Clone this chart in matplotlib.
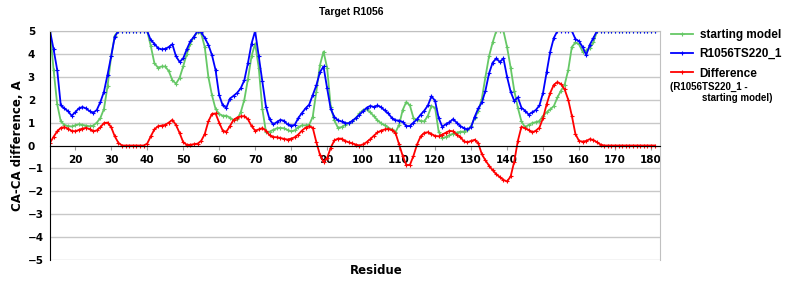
import numpy as np
import matplotlib.pyplot as plt

# residues 13..181
residue = np.arange(13, 182)

model = [5.0, 4.2, 3.3, 1.75, 1.62, 1.5, 1.3, 1.45, 1.62, 1.68,
         1.62, 1.5, 1.43, 1.55, 1.9, 2.35, 3.1, 3.9, 4.75, 5.0,
         5.0, 5.0, 5.0, 5.0, 5.0, 5.0, 5.0, 5.0, 4.6, 4.45,
         4.25, 4.2, 4.22, 4.3, 4.42, 3.9, 3.65, 3.8, 4.2, 4.55,
         4.75, 5.0, 4.95, 4.7, 4.4, 3.95, 3.3, 2.2, 1.75, 1.65,
         2.05, 2.17, 2.3, 2.5, 2.85, 3.6, 4.45, 5.0, 3.9, 2.8,
         1.7, 1.15, 0.92, 1.02, 1.12, 1.08, 0.92, 0.87, 0.9, 1.2,
         1.42, 1.62, 1.78, 2.2, 2.62, 3.2, 3.45, 2.5, 1.6, 1.25,
         1.1, 1.05, 0.98, 0.97, 1.08, 1.2, 1.35, 1.5, 1.65, 1.73,
         1.68, 1.75, 1.67, 1.53, 1.4, 1.2, 1.1, 1.09, 1.03, 0.85,
         0.85, 1.0, 1.15, 1.35, 1.52, 1.75, 2.15, 1.95, 1.2, 0.82,
         0.93, 1.02, 1.15, 1.0, 0.85, 0.76, 0.7, 0.8, 1.25, 1.62,
         1.88, 2.4, 3.15, 3.62, 3.8, 3.65, 3.8, 3.0, 2.35, 1.95,
         2.1, 1.65, 1.52, 1.35, 1.45, 1.55, 1.75, 2.3, 3.2, 4.1,
         4.7, 5.0, 5.0, 5.0, 5.0, 5.0, 4.65, 4.55, 4.3, 3.95,
         4.4, 4.7, 5.0, 5.0, 5.0, 5.0, 5.0, 5.0, 5.0, 5.0,
         5.0, 5.0, 5.0, 5.0, 5.0, 5.0, 5.0, 5.0, 5.0]

start = [5.0, 3.3, 1.8, 1.05, 0.9, 0.85, 0.83, 0.88, 0.93, 0.9,
         0.87, 0.84, 0.87, 1.0, 1.2, 1.6, 2.6, 3.9, 4.8, 5.0,
         5.0, 5.0, 5.0, 5.0, 5.0, 5.0, 5.0, 5.0, 4.35, 3.6,
         3.4, 3.45, 3.45, 3.25, 2.85, 2.7, 2.95, 3.45, 4.0, 4.45,
         4.75, 4.95, 4.9, 4.3, 3.0, 2.2, 1.6, 1.38, 1.3, 1.3,
         1.22, 1.1, 1.15, 1.45, 2.0, 2.9, 3.9, 4.45, 3.4, 1.6,
         0.6, 0.6, 0.68, 0.75, 0.77, 0.75, 0.68, 0.62, 0.66, 0.8,
         0.88, 0.88, 0.9, 1.25, 2.35, 3.5, 4.1, 3.4, 1.7, 1.1,
         0.78, 0.8, 0.9, 0.98, 1.05, 1.2, 1.4, 1.55, 1.58, 1.45,
         1.28, 1.1, 0.97, 0.88, 0.78, 0.7, 0.58, 0.9, 1.55, 1.9,
         1.75, 1.2, 1.1, 1.08, 1.05, 1.3, 1.72, 1.65, 0.6, 0.32,
         0.37, 0.45, 0.52, 0.56, 0.6, 0.61, 0.66, 0.85, 1.2, 1.5,
         2.05, 3.0, 3.9, 4.5, 5.0, 5.0, 5.0, 4.3, 3.4, 2.4,
         1.65, 1.05, 0.8, 0.9, 0.98, 1.02, 1.07, 1.3, 1.45, 1.58,
         1.72, 2.1, 2.4, 2.65, 3.3, 4.3, 4.5, 4.42, 4.1, 4.15,
         4.25, 4.5, 5.0, 5.0, 5.0, 5.0, 5.0, 5.0, 5.0, 5.0,
         5.0, 5.0, 5.0, 5.0, 5.0, 5.0, 5.0, 5.0, 5.0]

diff = [0.12, 0.38, 0.62, 0.77, 0.8, 0.74, 0.64, 0.62, 0.68, 0.74,
        0.77, 0.72, 0.62, 0.66, 0.8, 0.98, 1.0, 0.8, 0.4, 0.12,
        0.0, 0.0, 0.0, 0.0, 0.0, 0.0, 0.0, 0.08, 0.4, 0.7,
        0.84, 0.87, 0.9, 1.0, 1.12, 0.9, 0.55, 0.15, 0.03, 0.03,
        0.06, 0.08, 0.2, 0.5, 1.05, 1.38, 1.4, 1.0, 0.65, 0.6,
        0.85, 1.12, 1.22, 1.27, 1.28, 1.15, 0.85, 0.65, 0.7, 0.76,
        0.65, 0.45, 0.37, 0.36, 0.33, 0.29, 0.26, 0.3, 0.36, 0.48,
        0.65, 0.78, 0.83, 0.78, 0.15, -0.4, -0.72, -0.55, -0.1, 0.22,
        0.3, 0.3, 0.2, 0.14, 0.09, 0.04, 0.0, 0.05, 0.15, 0.28,
        0.43, 0.57, 0.65, 0.7, 0.72, 0.68, 0.55, 0.05, -0.45, -0.85,
        -0.85, -0.45, 0.05, 0.4, 0.55, 0.58, 0.5, 0.42, 0.4, 0.48,
        0.56, 0.64, 0.62, 0.48, 0.38, 0.18, 0.14, 0.2, 0.25, 0.1,
        -0.38, -0.65, -0.88, -1.08, -1.25, -1.38, -1.5, -1.57, -1.35, -0.7,
        0.2, 0.82, 0.75, 0.68, 0.57, 0.65, 0.78, 1.2, 1.8, 2.3,
        2.65, 2.77, 2.68, 2.45, 2.0, 1.3, 0.5, 0.2, 0.17, 0.2,
        0.28, 0.24, 0.14, 0.04, 0.0, 0.0, 0.0, 0.0, 0.0, 0.0,
        0.0, 0.0, 0.0, 0.0, 0.0, 0.0, 0.0, 0.0, 0.0]

labels = ['starting model', 'R1056TS220_1', 'Difference']
colors = ['#66c866', '#0000ff', '#ff0000']
xticks = list(range(20, 181, 10))
yticks = list(range(-5, 6))

fig = plt.figure(figsize=(8, 3), dpi=100)
ax = fig.add_axes([0.0625, 0.1333, 0.7625, 0.7634])

for y, lab, c in zip([start, model, diff], labels, colors):
    ax.plot(residue, y, color=c, lw=1.3, marker='+', ms=3, mew=0.8, label=lab)

ax.set_xlim(13, 182.5)
ax.set_ylim(-5, 5)
ax.set_xticks(xticks)
ax.set_yticks(yticks)
ax.yaxis.grid(True, color='#c8c8c8', lw=1)
ax.set_axisbelow(True)

ax.spines['bottom'].set_position(('data', 0))
ax.spines['bottom'].set_color('black')
ax.spines['left'].set_color('black')
ax.spines['top'].set_color('#c0c0c0')
ax.spines['right'].set_color('#c0c0c0')

ax.tick_params(axis='x', length=3, pad=4, labelsize=7.5, color='#999999')
ax.tick_params(axis='y', length=0, pad=16, labelsize=7.5)
for t in ax.get_xticklabels() + ax.get_yticklabels():
    t.set_fontweight('bold')
    t.set_family('DejaVu Sans')
for t in ax.get_yticklabels():
    t.set_ha('left')

ax.set_ylabel('CA-CA difference, A', fontsize=8.5, fontweight='bold', labelpad=3)
fig.text(376 / 800, 1 - 270 / 300, 'Residue', fontsize=8.5, fontweight='bold',
         ha='center', va='center')
fig.text(351 / 800, 1 - 12 / 300, 'Target R1056', fontsize=7.5, fontweight='bold',
         family='Liberation Sans', ha='center', va='center')

leg = ax.legend(loc='upper left', bbox_to_anchor=(1.005, 1.045), frameon=False,
                prop={'family': 'Liberation Sans', 'weight': 'bold', 'size': 8.5},
                handlelength=1.8, handletextpad=0.6, labelspacing=0.62, borderpad=0.2)
fig.text(670 / 800, 1 - 87 / 300, '(R1056TS220_1 -', fontsize=7, fontweight='bold',
         family='Liberation Sans', ha='left', va='center')
fig.text(702 / 800, 1 - 98 / 300, 'starting model)', fontsize=7, fontweight='bold',
         family='Liberation Sans', ha='left', va='center')

fig.savefig('out.png', dpi=100)
